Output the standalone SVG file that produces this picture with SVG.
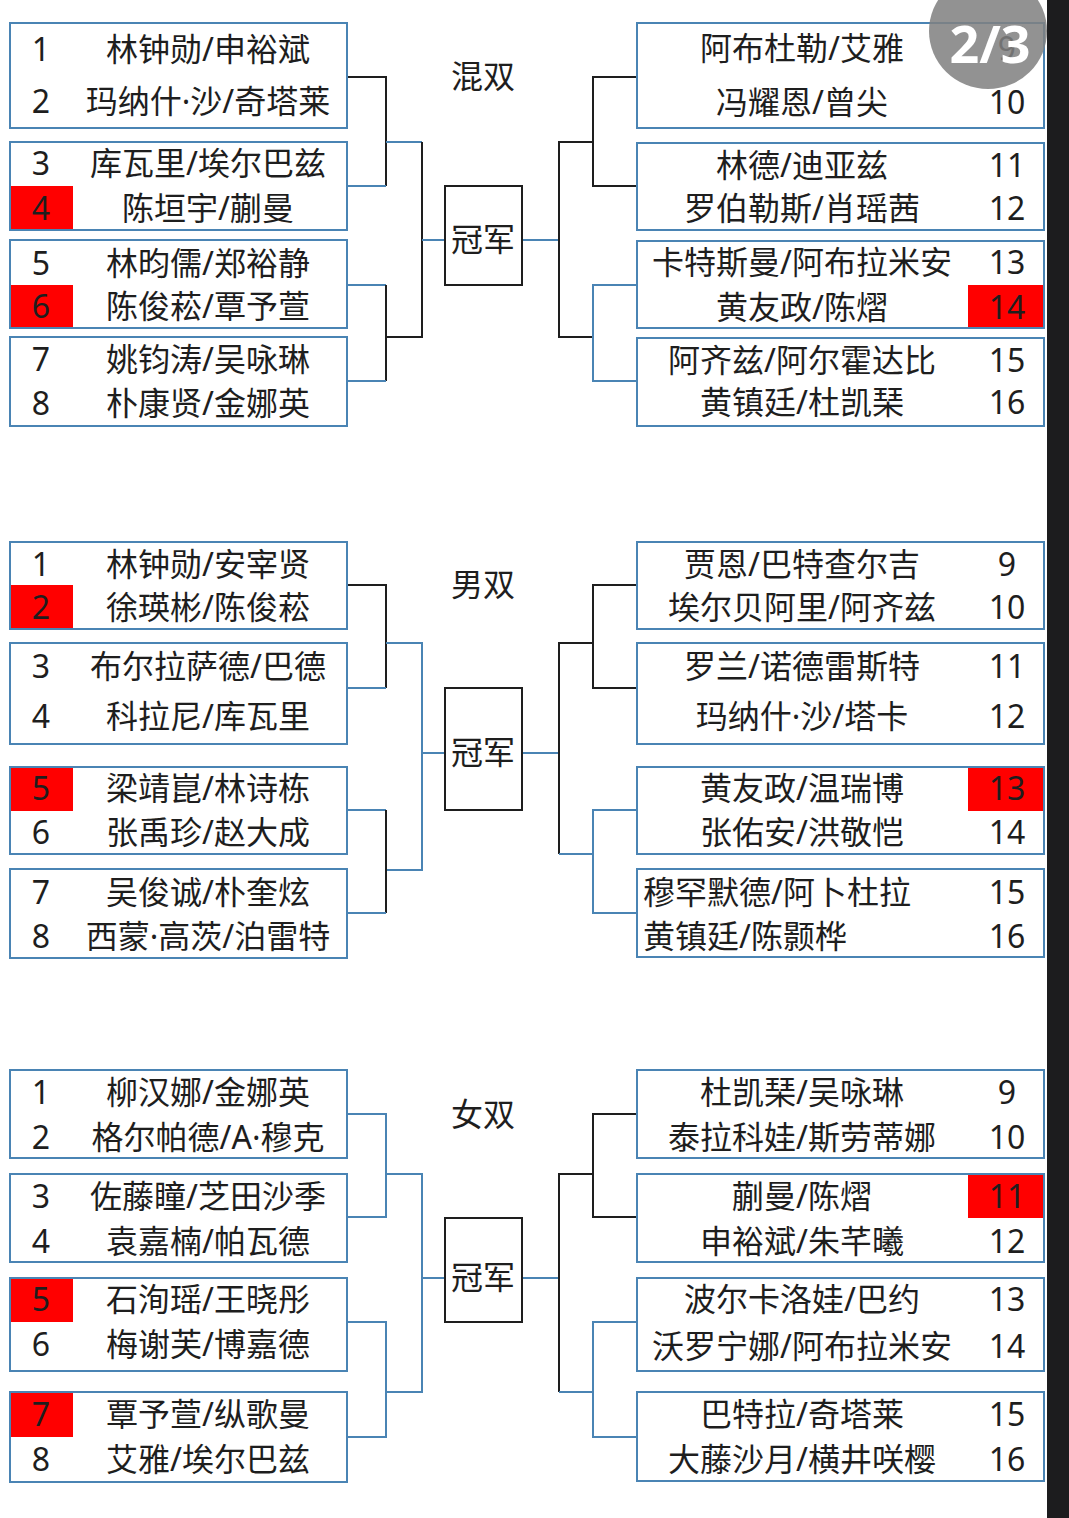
<svg xmlns="http://www.w3.org/2000/svg" width="1069" height="1518" viewBox="0 0 1069 1518">
<style>
.bg{fill:#ffffff}
.box{fill:#ffffff;stroke:#4a84b4;stroke-width:2}
.red{fill:#ff0000}
.t{font-family:"Noto Sans","Noto Sans CJK SC",sans-serif;font-size:32px;fill:#1e1e1e;text-anchor:middle}
.ls{text-anchor:start}
.blk{stroke:#1e1e1e;stroke-width:2;fill:none}
.blu{stroke:#4a84b4;stroke-width:2;fill:none}
.champ{fill:#ffffff;stroke:#1e1e1e;stroke-width:2}
.badge{fill:#808080;fill-opacity:0.86}
.bt{font-family:"Noto Sans",sans-serif;font-size:52px;font-weight:bold;fill:#ffffff;text-anchor:middle}
</style>
<rect class="bg" x="0" y="0" width="1069" height="1518"/>

<g id="connectors">
  <path class="blk" d="M347 77H386V186"/>
  <path class="blu" d="M347 186H386"/>
  <path class="blu" d="M386 142H422"/>
  <path class="blk" d="M422 142V337H386"/>
  <path class="blu" d="M422 240H445"/>
  <path class="blu" d="M347 285H386"/>
  <path class="blk" d="M386 285V381"/>
  <path class="blu" d="M347 381H386"/>
  <path class="blu" d="M522 240H559"/>
  <path class="blk" d="M593 142H559V337H593"/>
  <path class="blk" d="M637 77H593V186H637"/>
  <path class="blu" d="M637 285H593V381H637"/>
  <path class="blk" d="M347 585H386V688"/>
  <path class="blu" d="M347 688H386"/>
  <path class="blu" d="M386 643H422V870H386"/>
  <path class="blu" d="M422 753H445"/>
  <path class="blu" d="M347 810H386"/>
  <path class="blk" d="M386 810V913"/>
  <path class="blu" d="M347 913H386"/>
  <path class="blu" d="M522 753H559"/>
  <path class="blk" d="M593 643H559V854"/>
  <path class="blu" d="M559 854H593"/>
  <path class="blk" d="M637 585H593V688H637"/>
  <path class="blu" d="M637 810H593V913H637"/>
  <path class="blu" d="M347 1114H386V1217H347"/>
  <path class="blu" d="M386 1174H422V1392H386"/>
  <path class="blu" d="M422 1278H445"/>
  <path class="blu" d="M347 1322H386V1437H347"/>
  <path class="blu" d="M522 1278H559"/>
  <path class="blk" d="M593 1174H559V1392"/>
  <path class="blu" d="M559 1392H593"/>
  <path class="blk" d="M637 1114H593V1217H637"/>
  <path class="blu" d="M637 1322H593V1437H637"/>
</g>

<g id="title-mixed"><text class="t" x="483" y="88">混双</text></g>
<g id="champ-mixed"><rect class="champ" x="445" y="186" width="77" height="99"/><text class="t" x="483" y="251">冠军</text></g>

<g id="mx-L1"><rect class="box" x="10" y="23" width="337" height="105"/>
<text class="t" x="41" y="61">1</text><text class="t" x="208" y="61">林钟勋/申裕斌</text>
<text class="t" x="41" y="113">2</text><text class="t" x="208" y="113">玛纳什·沙/奇塔莱</text></g>
<g id="mx-L2"><rect class="box" x="10" y="142" width="337" height="88"/><rect class="red" x="11" y="186" width="62" height="43"/>
<text class="t" x="41" y="175">3</text><text class="t" x="208" y="175">库瓦里/埃尔巴兹</text>
<text class="t" x="41" y="220">4</text><text class="t" x="208" y="220">陈垣宇/蒯曼</text></g>
<g id="mx-L3"><rect class="box" x="10" y="240" width="337" height="88"/><rect class="red" x="11" y="285" width="62" height="42"/>
<text class="t" x="41" y="275">5</text><text class="t" x="208" y="275">林昀儒/郑裕静</text>
<text class="t" x="41" y="318">6</text><text class="t" x="208" y="318">陈俊菘/覃予萱</text></g>
<g id="mx-L4"><rect class="box" x="10" y="337" width="337" height="89"/>
<text class="t" x="41" y="371">7</text><text class="t" x="208" y="371">姚钧涛/吴咏琳</text>
<text class="t" x="41" y="415">8</text><text class="t" x="208" y="415">朴康贤/金娜英</text></g>

<g id="mx-R1"><rect class="box" x="637" y="23" width="407" height="105"/>
<text class="t" x="802" y="60">阿布杜勒/艾雅</text><text class="t" x="1007" y="60">9</text>
<text class="t" x="802" y="114">冯耀恩/曾尖</text><text class="t" x="1007" y="114">10</text></g>
<g id="mx-R2"><rect class="box" x="637" y="143" width="407" height="87"/>
<text class="t" x="802" y="177">林德/迪亚兹</text><text class="t" x="1007" y="177">11</text>
<text class="t" x="802" y="220">罗伯勒斯/肖瑶茜</text><text class="t" x="1007" y="220">12</text></g>
<g id="mx-R3"><rect class="box" x="637" y="241" width="407" height="87"/><rect class="red" x="968" y="285" width="75" height="42"/>
<text class="t" x="802" y="274">卡特斯曼/阿布拉米安</text><text class="t" x="1007" y="274">13</text>
<text class="t" x="802" y="319">黄友政/陈熠</text><text class="t" x="1007" y="319">14</text></g>
<g id="mx-R4"><rect class="box" x="637" y="338" width="407" height="88"/>
<text class="t" x="802" y="372">阿齐兹/阿尔霍达比</text><text class="t" x="1007" y="372">15</text>
<text class="t" x="802" y="414">黄镇廷/杜凯琹</text><text class="t" x="1007" y="414">16</text></g>

<g id="title-men"><text class="t" x="483" y="596">男双</text></g>
<g id="champ-men"><rect class="champ" x="445" y="688" width="77" height="122"/><text class="t" x="483" y="764">冠军</text></g>

<g id="md-L1"><rect class="box" x="10" y="542" width="337" height="87"/><rect class="red" x="11" y="585" width="62" height="43"/>
<text class="t" x="41" y="576">1</text><text class="t" x="208" y="576">林钟勋/安宰贤</text>
<text class="t" x="41" y="619">2</text><text class="t" x="208" y="619">徐瑛彬/陈俊菘</text></g>
<g id="md-L2"><rect class="box" x="10" y="643" width="337" height="101"/>
<text class="t" x="41" y="678">3</text><text class="t" x="208" y="678">布尔拉萨德/巴德</text>
<text class="t" x="41" y="728">4</text><text class="t" x="208" y="728">科拉尼/库瓦里</text></g>
<g id="md-L3"><rect class="box" x="10" y="767" width="337" height="87"/><rect class="red" x="11" y="768" width="62" height="43"/>
<text class="t" x="41" y="800">5</text><text class="t" x="208" y="800">梁靖崑/林诗栋</text>
<text class="t" x="41" y="844">6</text><text class="t" x="208" y="844">张禹珍/赵大成</text></g>
<g id="md-L4"><rect class="box" x="10" y="869" width="337" height="89"/>
<text class="t" x="41" y="904">7</text><text class="t" x="208" y="904">吴俊诚/朴奎炫</text>
<text class="t" x="41" y="948">8</text><text class="t" x="208" y="948">西蒙·高茨/泊雷特</text></g>

<g id="md-R1"><rect class="box" x="637" y="542" width="407" height="87"/>
<text class="t" x="802" y="576">贾恩/巴特查尔吉</text><text class="t" x="1007" y="576">9</text>
<text class="t" x="802" y="619">埃尔贝阿里/阿齐兹</text><text class="t" x="1007" y="619">10</text></g>
<g id="md-R2"><rect class="box" x="637" y="643" width="407" height="101"/>
<text class="t" x="802" y="678">罗兰/诺德雷斯特</text><text class="t" x="1007" y="678">11</text>
<text class="t" x="802" y="728">玛纳什·沙/塔卡</text><text class="t" x="1007" y="728">12</text></g>
<g id="md-R3"><rect class="box" x="637" y="767" width="407" height="87"/><rect class="red" x="968" y="768" width="75" height="43"/>
<text class="t" x="802" y="800">黄友政/温瑞博</text><text class="t" x="1007" y="800">13</text>
<text class="t" x="802" y="844">张佑安/洪敬恺</text><text class="t" x="1007" y="844">14</text></g>
<g id="md-R4"><rect class="box" x="637" y="869" width="407" height="88"/>
<text class="t ls" x="643" y="904">穆罕默德/阿卜杜拉</text><text class="t" x="1007" y="904">15</text>
<text class="t ls" x="643" y="948">黄镇廷/陈颢桦</text><text class="t" x="1007" y="948">16</text></g>

<g id="title-women"><text class="t" x="483" y="1126">女双</text></g>
<g id="champ-women"><rect class="champ" x="445" y="1218" width="77" height="104"/><text class="t" x="483" y="1289">冠军</text></g>

<g id="wd-L1"><rect class="box" x="10" y="1070" width="337" height="88"/>
<text class="t" x="41" y="1104">1</text><text class="t" x="208" y="1104">柳汉娜/金娜英</text>
<text class="t" x="41" y="1149">2</text><text class="t" x="208" y="1149">格尔帕德/A·穆克</text></g>
<g id="wd-L2"><rect class="box" x="10" y="1174" width="337" height="88"/>
<text class="t" x="41" y="1208">3</text><text class="t" x="208" y="1208">佐藤瞳/芝田沙季</text>
<text class="t" x="41" y="1253">4</text><text class="t" x="208" y="1253">袁嘉楠/帕瓦德</text></g>
<g id="wd-L3"><rect class="box" x="10" y="1278" width="337" height="93"/><rect class="red" x="11" y="1279" width="62" height="43"/>
<text class="t" x="41" y="1311">5</text><text class="t" x="208" y="1311">石洵瑶/王晓彤</text>
<text class="t" x="41" y="1356">6</text><text class="t" x="208" y="1356">梅谢芙/博嘉德</text></g>
<g id="wd-L4"><rect class="box" x="10" y="1392" width="337" height="90"/><rect class="red" x="11" y="1393" width="62" height="44"/>
<text class="t" x="41" y="1426">7</text><text class="t" x="208" y="1426">覃予萱/纵歌曼</text>
<text class="t" x="41" y="1471">8</text><text class="t" x="208" y="1471">艾雅/埃尔巴兹</text></g>

<g id="wd-R1"><rect class="box" x="637" y="1070" width="407" height="88"/>
<text class="t" x="802" y="1104">杜凯琹/吴咏琳</text><text class="t" x="1007" y="1104">9</text>
<text class="t" x="802" y="1149">泰拉科娃/斯劳蒂娜</text><text class="t" x="1007" y="1149">10</text></g>
<g id="wd-R2"><rect class="box" x="637" y="1174" width="407" height="88"/><rect class="red" x="968" y="1175" width="75" height="43"/>
<text class="t" x="802" y="1208">蒯曼/陈熠</text><text class="t" x="1007" y="1208">11</text>
<text class="t" x="802" y="1253">申裕斌/朱芊曦</text><text class="t" x="1007" y="1253">12</text></g>
<g id="wd-R3"><rect class="box" x="637" y="1278" width="407" height="93"/>
<text class="t" x="802" y="1311">波尔卡洛娃/巴约</text><text class="t" x="1007" y="1311">13</text>
<text class="t" x="802" y="1358">沃罗宁娜/阿布拉米安</text><text class="t" x="1007" y="1358">14</text></g>
<g id="wd-R4"><rect class="box" x="637" y="1392" width="407" height="89"/>
<text class="t" x="802" y="1426">巴特拉/奇塔莱</text><text class="t" x="1007" y="1426">15</text>
<text class="t" x="802" y="1471">大藤沙月/横井咲樱</text><text class="t" x="1007" y="1471">16</text></g>

<g id="page-badge"><ellipse class="badge" cx="988" cy="31" rx="59" ry="58"/><text class="bt" x="990" y="63">2/3</text></g>
<rect id="right-strip" x="1047" y="0" width="22" height="1518" fill="#1c1c1e"/>
</svg>
